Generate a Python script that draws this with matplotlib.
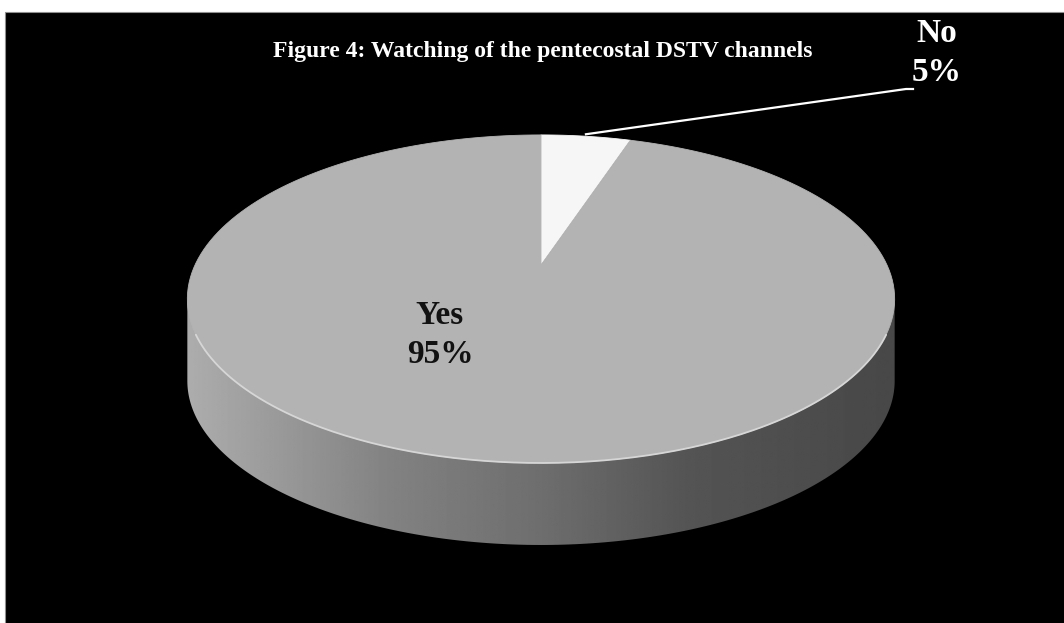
import numpy as np
import matplotlib
matplotlib.use("Agg")
import matplotlib.pyplot as plt
from matplotlib.patches import Polygon, Rectangle

categories = ["No", "Yes"]
values = [5, 95]
slice_colors = ["#f6f6f6", "#b3b3b3"]
title = "Figure 4: Watching of the pentecostal DSTV channels"

plt.rcParams['font.family'] = ['Liberation Serif', 'DejaVu Serif']

fig = plt.figure(figsize=(10.64, 6.23), dpi=100)
fig.patch.set_facecolor('white')
ax = fig.add_axes([0, 0, 1, 1])
ax.axis('off')

ax.add_patch(Rectangle((5, 12), 1062, 615, facecolor='black', edgecolor='#909090', lw=0.8, zorder=0))

# perspective projection of the pie disc
X0, Y0, A, B, K, DEPTH = 541, 265, 346, 157, 0.207, 82

def proj(theta_deg):
    t = np.radians(theta_deg)
    u, v = np.sin(t), np.cos(t)
    w = 1 + K * v
    return X0 + A * u / w, Y0 - B * v / w

fractions = np.array(values, dtype=float) / np.sum(values)
bounds = np.concatenate([[0], np.cumsum(fractions) * 360])

# side wall (front)
th = np.linspace(101.9, 258.1, 300)
xs, ys = proj(th)
side = np.concatenate([np.c_[xs, ys - 6], np.c_[xs[::-1], ys[::-1] + DEPTH]])
side_patch = Polygon(side, closed=True, facecolor='none', edgecolor='none', zorder=1)
ax.add_patch(side_patch)
gx = np.linspace(180, 900, 500)
gray = np.interp(gx, [190, 390, 540, 690, 890], [172, 130, 110, 84, 72]) / 255.0
img = np.tile(gray, (10, 1))
im = ax.imshow(img, cmap='gray', vmin=0, vmax=1, extent=(180, 900, 560, 250),
               aspect='auto', interpolation='bilinear', zorder=1)
im.set_clip_path(side_patch)

# top face slices
for i, (cat, col) in enumerate(zip(categories, slice_colors)):
    t = np.linspace(bounds[i], bounds[i + 1], 200)
    px, py = proj(t)
    pts = np.vstack([[X0, Y0], np.c_[px, py]])
    ax.add_patch(Polygon(pts, closed=True, facecolor=col, edgecolor=col, lw=0.6, zorder=2))

# rim highlight
t = np.linspace(114, 246, 200)
px, py = proj(t)
ax.plot(px, py, color='#d6d6d6', lw=1.3, zorder=3, solid_capstyle='round')

# labels
mid_no = (bounds[0] + bounds[1]) / 2
ax_, ay_ = proj(mid_no)
ax.plot([ax_, 906, 913], [ay_ - 2, 89, 89], color='white', lw=1.6, zorder=4)
ax.text(937, 53, f"{categories[0]}\n{values[0]}%", color='white', fontsize=24,
        fontweight='bold', ha='center', va='center', linespacing=1.3, zorder=5)
ax.text(440, 335, f"{categories[1]}\n{values[1]}%", color='#111111', fontsize=24,
        fontweight='bold', ha='center', va='center', linespacing=1.3, zorder=5)

ax.text(543, 52, title, color='white', fontsize=17, fontweight='bold',
        ha='center', va='center', zorder=5)

ax.set_xlim(0, 1064)
ax.set_ylim(623, 0)
fig.savefig("out.png", dpi=100, facecolor=fig.get_facecolor())
